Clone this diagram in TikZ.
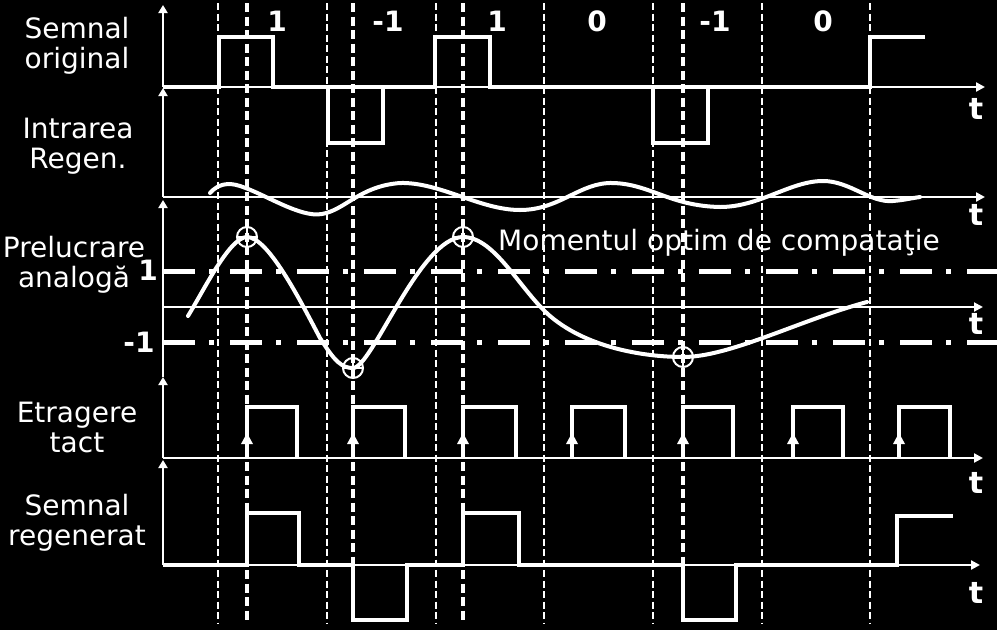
\documentclass[tikz,border=0pt]{standalone}
\usepackage{fontspec}
\setmainfont{DejaVu Sans}
\usetikzlibrary{arrows.meta}
\begin{document}
\begin{tikzpicture}[x=1pt,y=-1pt,
  sig/.style={white,line width=4.5pt,line join=miter},
  axis/.style={white,line width=2.6pt},
  thinaxis/.style={white,line width=2pt},
  bitline/.style={white,line width=2.2pt,dash pattern=on 7pt off 3.5pt},
  sampline/.style={white,line width=4pt,dash pattern=on 9pt off 4.5pt},
  lvl/.style={white,line width=5pt,dash pattern=on 32pt off 14pt on 5pt off 16pt},
  lbl/.style={white,font=\fontsize{28}{30}\selectfont,align=center,inner sep=0pt},
  dig/.style={white,font=\fontsize{28}{30}\selectfont\bfseries,inner sep=0pt},
  tlbl/.style={white,font=\fontsize{30}{30}\selectfont\bfseries,inner sep=0pt},
  harr/.style={-{Triangle[width=9pt,length=9pt]}},
  varr/.style={-{Triangle[width=9pt,length=8pt]}},
  curve/.style={white,line width=4pt,line cap=round},
  sampmark/.style={white,line width=2pt}
]
\fill[black] (0,0) rectangle (997,630);
\useasboundingbox (0,0) rectangle (997,630);

% vertical dashed lines
\foreach \x in {218,327,436,544,653,762,870} \draw[bitline] (\x,3) -- (\x,624);
\foreach \x in {247,353,463,683} \draw[sampline] (\x,3) -- (\x,624);

% axes
\draw[axis,harr] (163,87) -- (985,87);
\draw[axis,harr] (163,197) -- (985,197);
\draw[thinaxis,harr] (163,307) -- (983,307);
\draw[axis,harr] (163,458) -- (983,458);
\draw[axis,harr] (163,565) -- (980,565);
\draw[axis,varr] (163,87) -- (163,5);
\draw[axis,varr] (163,197) -- (163,88);
\draw[thinaxis,varr] (163,377) -- (163,200);
\draw[axis,varr] (163,458) -- (163,377);
\draw[axis,varr] (163,565) -- (163,460);

% threshold levels
\draw[lvl] (163,271) -- (997,271);
\draw[lvl] (163,342) -- (997,342);

% original signal
\draw[sig] (163,87) -- (219,87) -- (219,37) -- (273,37) -- (273,87) -- (435,87) -- (435,37) -- (490,37) -- (490,87) -- (870,87) -- (870,37) -- (925,37);
% regenerator input (AMI)
\draw[sig] (328,87) -- (328,143) -- (383,143) -- (383,87);
\draw[sig] (653,87) -- (653,143) -- (708,143) -- (708,87);

% distorted wave
\draw[curve] (210,193) .. controls (218,184) and (228,182) .. (240,186)
  .. controls (265,194) and (300,218) .. (322,214)
  .. controls (345,210) and (360,186) .. (400,183)
  .. controls (440,182) and (480,210) .. (520,210)
  .. controls (560,210) and (580,182) .. (613,183)
  .. controls (650,184) and (670,206) .. (720,207)
  .. controls (760,207) and (790,181) .. (823,181)
  .. controls (850,181) and (870,203) .. (893,201)
  .. controls (905,200) and (912,198) .. (920,197);

% analog processed signal
\draw[curve] (188,316) .. controls (205,288) and (230,237) .. (247,237)
  .. controls (268,237) and (300,300) .. (320,338)
  .. controls (335,362) and (342,368) .. (353,368)
  .. controls (372,368) and (420,237) .. (463,237)
  .. controls (495,237) and (520,290) .. (550,316)
  .. controls (590,350) and (650,357) .. (683,357)
  .. controls (730,357) and (800,320) .. (867,302);

% sampling marks
\foreach \x/\y in {247/237,353/368,463/237,683/357} {
  \draw[sampmark] (\x,\y) circle[radius=10pt];
  \draw[sampmark] (\x-10,\y) -- (\x+10,\y) (\x,\y-10) -- (\x,\y+10);
}

% clock pulses
\foreach \a/\b in {247/297,353/405,463/516,572/625,683/733,793/843,899/950} {
  \draw[sig] (\a,458) -- (\a,407) -- (\b,407) -- (\b,458);
  \fill[white] (\a-6,444) -- (\a+6,444) -- (\a,433) -- cycle;
}

% regenerated signal
\draw[sig] (163,565) -- (247,565) -- (247,513) -- (299,513) -- (299,565) -- (353,565) -- (353,620) -- (407,620) -- (407,565) -- (463,565) -- (463,513) -- (519,513) -- (519,565) -- (683,565) -- (683,620) -- (736,620) -- (736,565) -- (897,565) -- (897,516) -- (953,516);

% labels (base anchor = baseline of the last line)
\node[lbl,anchor=base] (l1) at (77,68) {Semnal\\original};
\node[lbl,anchor=base] (l2) at (78,168) {Intrarea\\Regen.};
\node[lbl,anchor=base] (l3) at (74,287) {Prelucrare\\analogă};
\node[lbl,anchor=base] (l4) at (77,452) {Etragere\\tact};
\node[lbl,anchor=base] (l5) at (77,545) {Semnal\\regenerat};

\node[dig,anchor=base] (lv1) at (148,280) {1};
\node[dig,anchor=base] (lv2) at (139,352) {-1};

\node[dig,anchor=base] (d1) at (277,31) {1};
\node[dig,anchor=base] (d2) at (388,31) {-1};
\node[dig,anchor=base] (d3) at (497,31) {1};
\node[dig,anchor=base] (d4) at (597,31) {0};
\node[dig,anchor=base] (d5) at (715,31) {-1};
\node[dig,anchor=base] (d6) at (823,31) {0};

\node[tlbl,anchor=base] (t1) at (976,119) {t};
\node[tlbl,anchor=base] (t2) at (976,225) {t};
\node[tlbl,anchor=base] (t3) at (976,334) {t};
\node[tlbl,anchor=base] (t4) at (976,493) {t};
\node[tlbl,anchor=base] (t5) at (976,603) {t};

\node[white,font=\fontsize{28}{30}\selectfont,anchor=base west,inner sep=0pt] (mo) at (498,250) {Momentul optim de compataţie};
\end{tikzpicture}
\end{document}
